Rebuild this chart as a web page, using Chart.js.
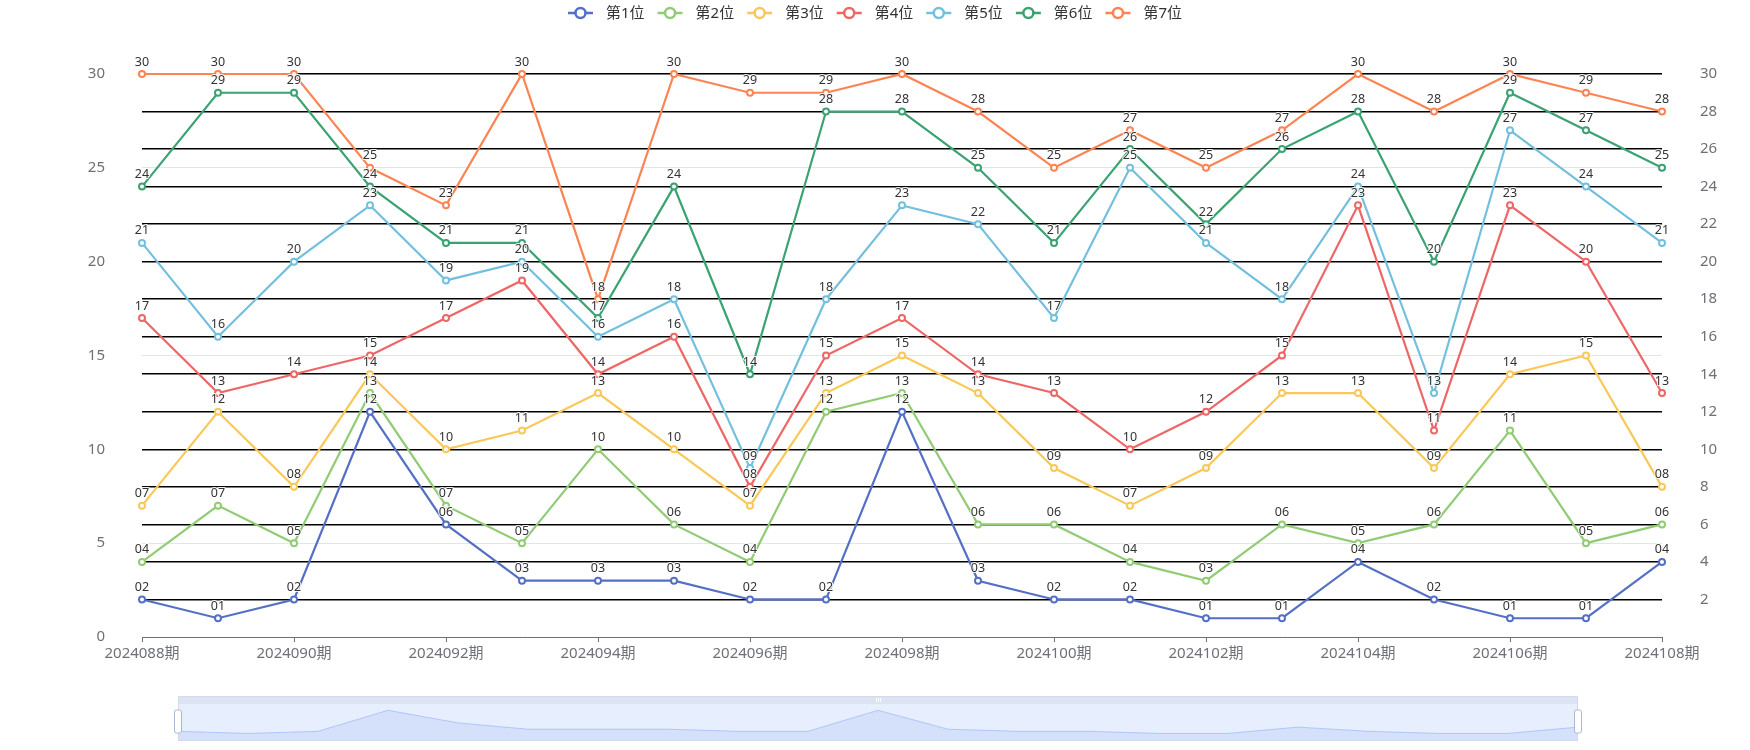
<!DOCTYPE html>
<html><head><meta charset="utf-8">
<script src="https://cdn.jsdelivr.net/npm/chart.js@4.4.1/dist/chart.umd.min.js"></script>
<style>
html,body{margin:0;padding:0;background:#fff;}
#wrap{position:relative;width:1750px;height:750px;overflow:hidden;}
#main{position:absolute;left:0;top:0;}
#zoom{position:absolute;left:166px;top:694px;}
</style></head><body>
<div id="wrap"><canvas id="main" width="1750" height="750"></canvas><canvas id="zoom" width="1424" height="50"></canvas></div>
<script>
const periods = ['2024088期','2024089期','2024090期','2024091期','2024092期','2024093期','2024094期','2024095期','2024096期','2024097期','2024098期','2024099期','2024100期','2024101期','2024102期','2024103期','2024104期','2024105期','2024106期','2024107期','2024108期'];
const seriesNames = ['第1位','第2位','第3位','第4位','第5位','第6位','第7位'];
const pos1 = [2,1,2,12,6,3,3,3,2,2,12,3,2,2,1,1,4,2,1,1,4];
const pos2 = [4,7,5,13,7,5,10,6,4,12,13,6,6,4,3,6,5,6,11,5,6];
const pos3 = [7,12,8,14,10,11,13,10,7,13,15,13,9,7,9,13,13,9,14,15,8];
const pos4 = [17,13,14,15,17,19,14,16,8,15,17,14,13,10,12,15,23,11,23,20,13];
const pos5 = [21,16,20,23,19,20,16,18,9,18,23,22,17,25,21,18,24,13,27,24,21];
const pos6 = [24,29,29,24,21,21,17,24,14,28,28,25,21,26,22,26,28,20,29,27,25];
const pos7 = [30,30,30,25,23,30,18,30,29,29,30,28,25,27,25,27,30,28,30,29,28];
const leftTicks = [0,5,10,15,20,25,30];
const rightTicks = [2,4,6,8,10,12,14,16,18,20,22,24,26,28,30];
const colors = ['#5470c6','#91cc75','#fac858','#ee6666','#73c0de','#3ba272','#fc8452'];

const seriesData = [pos1,pos2,pos3,pos4,pos5,pos6,pos7];
const FONT = '"Noto Sans", "Noto Sans CJK SC", sans-serif';

const valueLabels = {
  id:'valueLabels',
  afterDatasetsDraw(chart){
    const ctx = chart.ctx; ctx.save();
    ctx.font = '12.5px ' + FONT; ctx.textAlign = 'center'; ctx.textBaseline = 'middle';
    chart.data.datasets.forEach((ds,i)=>{
      const meta = chart.getDatasetMeta(i);
      meta.data.forEach((pt,j)=>{
        const t = String(ds.data[j]).padStart(2,'0');
        ctx.lineWidth = 2; ctx.strokeStyle = 'rgba(255,255,255,0.9)'; ctx.lineJoin='round';
        ctx.strokeText(t, pt.x, pt.y - 12);
        ctx.fillStyle = '#333'; ctx.fillText(t, pt.x, pt.y - 12);
      });
    });
    ctx.restore();
  }
};

const customLegend = {
  id:'customLegend',
  afterDraw(chart){
    const ctx = chart.ctx; ctx.save();
    ctx.font = '15px ' + FONT;
    const iconW = 25, gap = 13, itemGap = 13, y = 13;
    const items = chart.data.datasets.map(d=>({t:d.label, c:d.borderColor, w:ctx.measureText(d.label).width}));
    const total = items.reduce((s,it)=>s+iconW+gap+it.w,0) + itemGap*(items.length-1);
    let x = chart.width/2 - total/2;
    items.forEach(it=>{
      ctx.strokeStyle = it.c; ctx.lineWidth = 2.5;
      ctx.beginPath(); ctx.moveTo(x,y); ctx.lineTo(x+iconW,y); ctx.stroke();
      ctx.beginPath(); ctx.arc(x+iconW/2, y, 5, 0, Math.PI*2); ctx.fillStyle='#fff'; ctx.fill(); ctx.stroke();
      ctx.fillStyle = '#333'; ctx.textBaseline='middle'; ctx.textAlign='left';
      ctx.fillText(it.t, x+iconW+gap, y+1);
      x += iconW + gap + it.w + itemGap;
    });
    ctx.restore();
  }
};

new Chart(document.getElementById('main'), {
  type:'line',
  data:{
    labels: periods,
    datasets: seriesNames.map((n,i)=>({
      label:n, data:seriesData[i], borderColor:colors[i], backgroundColor:'#fff',
      pointBackgroundColor:'#fff', pointBorderColor:colors[i], borderWidth:2.2,
      pointRadius:3, pointBorderWidth:2, pointHoverRadius:3, tension:0, yAxisID:'y', clip:false, order:6-i
    }))
  },
  options:{
    responsive:false, animation:false, events:[],
    layout:{padding:{left:0,right:0,top:74,bottom:0}},
    plugins:{legend:{display:false}, tooltip:{enabled:false}},
    scales:{
      x:{
        type:'category', offset:false,
        grid:{drawOnChartArea:false, drawTicks:true, tickLength:5,
          color:(c)=> c.index%2===0 ? '#6E7079' : 'rgba(0,0,0,0)'},
        border:{display:true, color:'#6E7079', width:1},
        ticks:{autoSkip:false, maxRotation:0, minRotation:0, padding:3, color:'#6E7079', font:{size:15, family:FONT},
          callback(v,i){ return i%2===0 ? this.getLabelForValue(v) : ''; }},
        afterFit(s){ s.height = 113; }
      },
      y:{
        position:'left', min:0, max:30,
        afterBuildTicks(s){ s.ticks = leftTicks.map(v=>({value:v})); },
        ticks:{padding:37, color:'#6E7079', font:{size:15, family:FONT}},
        grid:{color:(c)=> c.tick && c.tick.value===0 ? 'rgba(0,0,0,0)' : '#E0E6F1', drawTicks:false, lineWidth:1},
        border:{display:false},
        afterFit(s){ s.width = 142; }
      },
      y1:{
        position:'right', min:0, max:30,
        afterBuildTicks(s){ s.ticks = rightTicks.map(v=>({value:v})); },
        ticks:{padding:38, color:'#6E7079', font:{size:15, family:FONT}},
        grid:{color:'#000', lineWidth:1.6, drawTicks:false},
        border:{display:false},
        afterFit(s){ s.width = 88; }
      }
    }
  },
  plugins:[valueLabels, customLegend]
});

const sliderDeco = {
  id:'sliderDeco',
  beforeDraw(chart){
    const ctx = chart.ctx, a = chart.chartArea; ctx.save();
    ctx.fillStyle = '#E7EEFD'; ctx.fillRect(a.left, a.top, a.right-a.left, a.bottom-a.top);
    ctx.fillStyle = '#DDE3F2'; ctx.fillRect(a.left, a.top-8, a.right-a.left, 8);
    ctx.restore();
  },
  afterDraw(chart){
    const ctx = chart.ctx, a = chart.chartArea; ctx.save();
    ctx.strokeStyle = '#D2DBEE'; ctx.lineWidth = 1;
    ctx.strokeRect(a.left+0.5, a.top-8+0.5, a.right-a.left-1, a.bottom-a.top+7);
    // grip
    const cx = (a.left+a.right)/2, gy = a.top-4;
    ctx.strokeStyle = '#fff'; ctx.lineWidth = 1;
    [-2,0,2].forEach(d=>{ ctx.beginPath(); ctx.moveTo(cx+d+0.5, gy-2); ctx.lineTo(cx+d+0.5, gy+2); ctx.stroke(); });
    // handles
    const hy = a.top + 6, hh = 23, hw = 7;
    [a.left, a.right].forEach(hx=>{
      ctx.beginPath();
      const x0 = hx - hw/2, r = 2;
      ctx.roundRect ? ctx.roundRect(x0, hy, hw, hh, r) : ctx.rect(x0, hy, hw, hh);
      ctx.fillStyle = '#fff'; ctx.fill(); ctx.strokeStyle = '#ACB8D1'; ctx.lineWidth = 1; ctx.stroke();
    });
    ctx.restore();
  }
};

new Chart(document.getElementById('zoom'), {
  type:'line',
  data:{labels:periods, datasets:[{data:pos1, borderColor:'rgba(143,176,247,0.6)', borderWidth:1,
    backgroundColor:'rgba(143,176,247,0.2)', fill:'start', pointRadius:0, tension:0}]},
  options:{
    responsive:false, animation:false, events:[],
    layout:{padding:{left:12,right:12,top:10,bottom:3}},
    plugins:{legend:{display:false}, tooltip:{enabled:false}},
    scales:{x:{display:false, offset:false}, y:{display:false, min:-2.6, max:15}}
  },
  plugins:[sliderDeco]
});
</script>
</body></html>
